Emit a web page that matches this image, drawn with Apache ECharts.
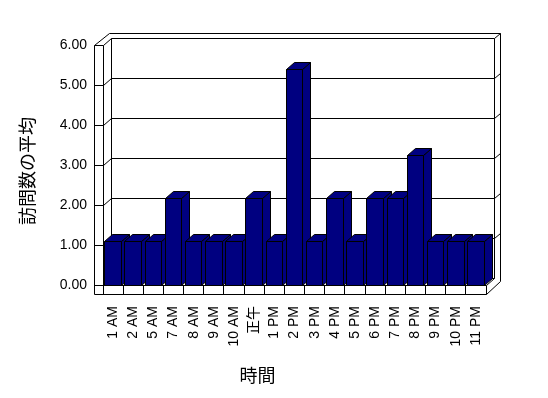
<!DOCTYPE html>
<html><head><meta charset="utf-8">
<script src="https://cdn.jsdelivr.net/npm/echarts@6/dist/echarts.min.js"></script>
<style>html,body{margin:0;padding:0;background:#fff}#c{width:548px;height:398px}</style>
</head><body><div id="c"></div>
<script>
// ---- data ----
const categories = ['1 AM','2 AM','5 AM','7 AM','8 AM','9 AM','10 AM','正午','1 PM','2 PM','3 PM','4 PM','5 PM','6 PM','7 PM','8 PM','9 PM','10 PM','11 PM'];
const visitAverages = [1,1,1,2,1,1,1,2,1,5,1,2,1,2,2,3,1,1,1];
const yTickMin = 0, yTickMax = 6, yTickStep = 1;
const gridValues = [0,1,2,3,4,5,6];
const yAxisTitle = '訪問数の平均';
const xAxisTitle = '時間';

const LATIN = '"Liberation Sans", "Noto Sans CJK JP", sans-serif';
const CJK = '"Noto Sans CJK JP", sans-serif';
const c = v => Math.floor(v) + 0.5;

const chart = echarts.init(document.getElementById('c'), null, {renderer: 'canvas'});

function line(x1, y1, x2, y2) {
  return {type: 'line', shape: {x1: c(x1), y1: c(y1), x2: c(x2), y2: c(y2)},
          style: {stroke: '#000', lineWidth: 1}};
}

function renderFrame(params, api) {
  const cs = params.coordSys;
  const L = cs.x, R = cs.x + cs.width, T = cs.y, B = cs.y + cs.height;
  const dx = 8, dy = -7;         // depth to back-wall face
  const ox = 14.4, oy = -11.7;   // depth to back-wall outer face
  const wl = L - 8.4;            // left wall front-left edge
  const fb = B + 9.3;            // floor slab bottom
  const kids = [];
  // back wall borders
  kids.push(line(L + dx, T + dy, R + dx, T + dy));
  kids.push(line(L + 6.6, T + oy, R + ox, T + oy));
  kids.push(line(R + dx, T + dy, R + ox, T + oy));
  kids.push(line(R + ox, T + oy, R + ox, B - 3.3));
  kids.push(line(R + dx, T + dy, R + dx, B + dy));
  kids.push(line(L + dx, T + dy, L + dx, B + dy));
  // left wall
  kids.push(line(wl, T, wl, fb));
  kids.push(line(L, T, L, fb));
  kids.push(line(wl, T, L, T));
  kids.push(line(wl, T, L + 6.6, T + oy));
  kids.push(line(L, T, L + dx, T + dy));
  // gridlines
  gridValues.forEach(v => {
    if (v === yTickMax) return;
    const yf = api.coord([0, v])[1];
    const yb = yf + dy;
    kids.push(line(L + dx, yb, R + dx, yb));
    kids.push(line(L, yf, L + dx, yb));
    kids.push(line(wl, yf, L, yf));
    if (v > 0) kids.push(line(R + dx, yb, R + ox, yb - 5));
  });
  // floor slab
  kids.push(line(L, B, R, B));
  kids.push(line(R, B, R + dx, B + dy));
  kids.push(line(wl, fb, R, fb));
  kids.push(line(R, B, R, fb));
  kids.push(line(R, fb, R + ox, B - 3.3));
  const cw = cs.width / categories.length;
  for (let k = 1; k < categories.length; k++) {
    kids.push(line(L + k * cw, B, L + k * cw, fb));
  }
  return {type: 'group', children: kids, silent: true};
}

function renderBar(params, api) {
  const i = api.value(0), v = api.value(1);
  const base = api.coord([i, 0]);
  const top = api.coord([i, v]);
  const bw = api.size([1, 0])[0] * 0.82;
  const xl = c(base[0] - bw / 2), xr = c(base[0] + bw / 2);
  const yt = c(top[1]), yb = c(base[1]);
  const dx = 8, dy = -7;
  const st = {fill: '#000080', stroke: '#000', lineWidth: 1};
  return {type: 'group', children: [
    {type: 'polygon', shape: {points: [[xr, yt], [xr + dx, yt + dy], [xr + dx, yb + dy], [xr, yb]]}, style: st},
    {type: 'polygon', shape: {points: [[xl, yt], [xr, yt], [xr + dx, yt + dy], [xl + dx, yt + dy]]}, style: st},
    {type: 'rect', shape: {x: xl, y: yt, width: xr - xl, height: yb - yt}, style: st}
  ]};
}

const option = {
  backgroundColor: '#fff',
  animation: false,
  grid: {left: 103, right: 62, top: 45, bottom: 113, containLabel: false},
  xAxis: {
    type: 'category', data: categories,
    axisLine: {show: false}, axisTick: {show: false}, splitLine: {show: false},
    axisLabel: {rotate: 90, margin: 21, interval: 0, fontSize: 14, color: '#000', fontFamily: LATIN}
  },
  yAxis: [
    {type: 'value', min: yTickMin, max: yTickMax, interval: yTickStep,
     axisLine: {show: false}, axisTick: {show: false}, splitLine: {show: false},
     axisLabel: {margin: 16, fontSize: 14, color: '#000', fontFamily: LATIN, formatter: v => v.toFixed(2)}},
    // projected column scale of the 3D view (columns stand forward of the walls)
    {type: 'value', min: 0, max: 240 / 43.2, show: false, splitLine: {show: false}}
  ],
  graphic: [
    {type: 'text', x: 27.5, y: 171, rotation: Math.PI / 2,
     style: {text: yAxisTitle, fontSize: 18, fontFamily: CJK, fill: '#000', align: 'center', verticalAlign: 'middle'}},
    {type: 'text', x: 257.5, y: 375.5,
     style: {text: xAxisTitle, fontSize: 18, fontFamily: CJK, fill: '#000', align: 'center', verticalAlign: 'middle'}}
  ],
  series: [
    {type: 'custom', name: 'frame', yAxisIndex: 0, data: [[0, 0]], renderItem: renderFrame, z: 1, silent: true, clip: false},
    {type: 'custom', name: '訪問数の平均', yAxisIndex: 1, data: visitAverages.map((v, i) => [i, v]),
     encode: {x: 0, y: 1}, renderItem: renderBar, z: 2, clip: false}
  ]
};
chart.setOption(option);
</script>
</body></html>
